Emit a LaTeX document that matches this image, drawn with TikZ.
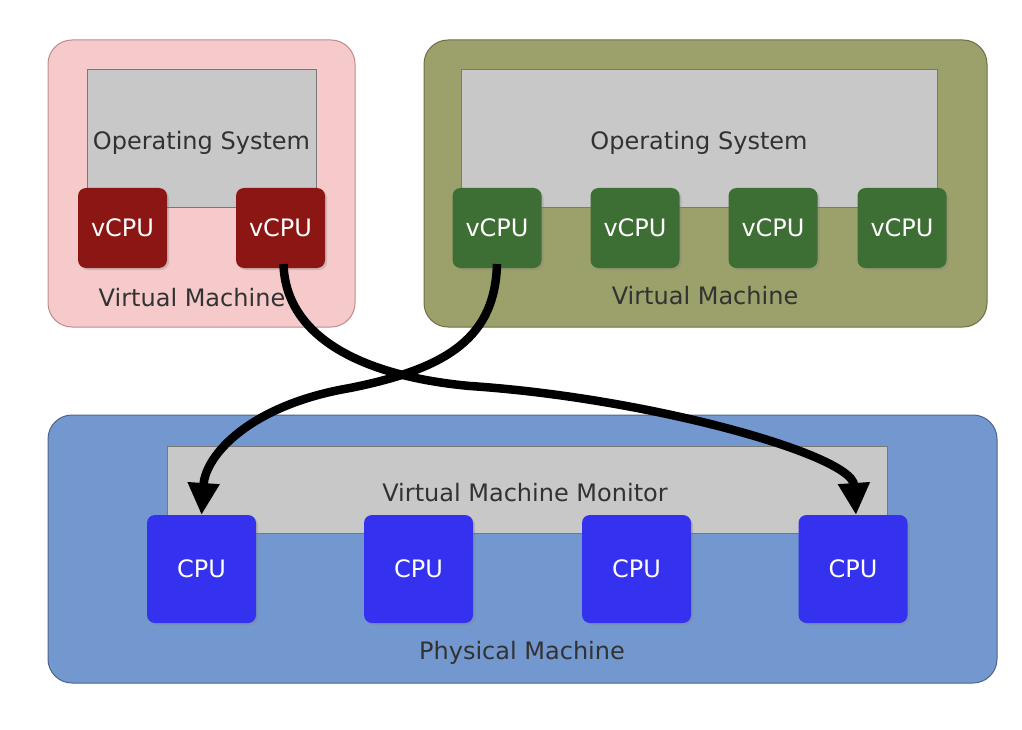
\documentclass[tikz,border=0pt]{standalone}
\usepackage{fontspec}
\setmainfont{DejaVu Sans}
\usetikzlibrary{arrows.meta,shadows}
\definecolor{vmpink}{RGB}{246,202,202}
\definecolor{vmpinkb}{RGB}{190,140,140}
\definecolor{vmolive}{RGB}{156,160,106}
\definecolor{vmoliveb}{RGB}{110,112,70}
\definecolor{osgray}{RGB}{200,200,200}
\definecolor{osgrayb}{RGB}{120,120,120}
\definecolor{vred}{RGB}{140,22,20}
\definecolor{vgreen}{RGB}{61,110,52}
\definecolor{pblue}{RGB}{115,152,207}
\definecolor{pblueb}{RGB}{80,100,140}
\definecolor{cpublue}{RGB}{52,50,238}
\definecolor{txt}{RGB}{50,50,50}
\begin{document}
\begin{tikzpicture}[x=1pt,y=-1pt,
  every node/.style={inner sep=0pt,outer sep=0pt},
  vmbox/.style={draw=#1,line width=1pt,rounded corners=24pt},
  osbox/.style={draw=osgrayb,fill=osgray,line width=1pt},
  vcpubox/.style={fill=#1,rounded corners=8pt,minimum width=89pt,minimum height=80pt,
     text=white,font=\fontsize{24}{28}\selectfont,
     drop shadow={shadow xshift=2pt,shadow yshift=-2pt,opacity=0.3}},
  cpubox/.style={fill=cpublue,rounded corners=8pt,minimum width=109pt,minimum height=108pt,
     text=white,font=\fontsize{24}{28}\selectfont,
     drop shadow={shadow xshift=2pt,shadow yshift=-2pt,opacity=0.3}},
  lbl/.style={text=txt,font=\fontsize{24}{28}\selectfont},
  conn/.style={line width=8.5pt,draw=black,-{Triangle[length=32pt,width=30pt]}}]
\useasboundingbox[fill=white] (0,0) rectangle (1022,730);

% left virtual machine
\node[vmbox=vmpinkb,fill=vmpink,minimum width=307pt,minimum height=287pt] (vm1) at (201.5,183.5) {};
\node[osbox,minimum width=229pt,minimum height=137pt] (os1) at (201.5,138.5) {};
\node[lbl] (os1t) at (201.5,143) {Operating System};
\node[vcpubox=vred] (v11) at (122.5,228) {vCPU};
\node[vcpubox=vred] (v12) at (280.5,228) {vCPU};
\node[lbl] (vm1t) at (192,298) {Virtual Machine};

% right virtual machine
\node[vmbox=vmoliveb,fill=vmolive,minimum width=563pt,minimum height=287pt] (vm2) at (705.5,183.5) {};
\node[osbox,minimum width=476pt,minimum height=137pt] (os2) at (699,138.5) {};
\node[lbl] (os2t) at (699,143) {Operating System};
\node[vcpubox=vgreen] (v21) at (497,228) {vCPU};
\node[vcpubox=vgreen] (v22) at (635,228) {vCPU};
\node[vcpubox=vgreen] (v23) at (773,228) {vCPU};
\node[vcpubox=vgreen] (v24) at (902,228) {vCPU};
\node[lbl] (vm2t) at (705,296) {Virtual Machine};

% physical machine
\node[vmbox=pblueb,fill=pblue,minimum width=949pt,minimum height=268pt] (pm) at (522.5,549) {};
\node[osbox,minimum width=720pt,minimum height=87pt] (vmm) at (527,489.5) {};
\node[lbl] (vmmt) at (525,493) {Virtual Machine Monitor};
\node[cpubox] (c1) at (201.5,569) {CPU};
\node[cpubox] (c2) at (418.5,569) {CPU};
\node[cpubox] (c3) at (636.5,569) {CPU};
\node[cpubox] (c4) at (853,569) {CPU};
\node[lbl] (pmt) at (522,653) {Physical Machine};

% connectors
\draw[conn] ([xshift=3pt,yshift=4pt]v12.south) .. controls +(2,72) and +(-110,-10) .. (470,386)
   .. controls +(180,12) and +(-4,-60) .. ([xshift=3pt]c4.north);
\draw[conn] ([yshift=4pt]v21.south) .. controls +(-2,72) and +(100,-20) .. (350,388)
   .. controls +(-100,17) and +(4,-60) .. (c1.north);
\end{tikzpicture}
\end{document}
